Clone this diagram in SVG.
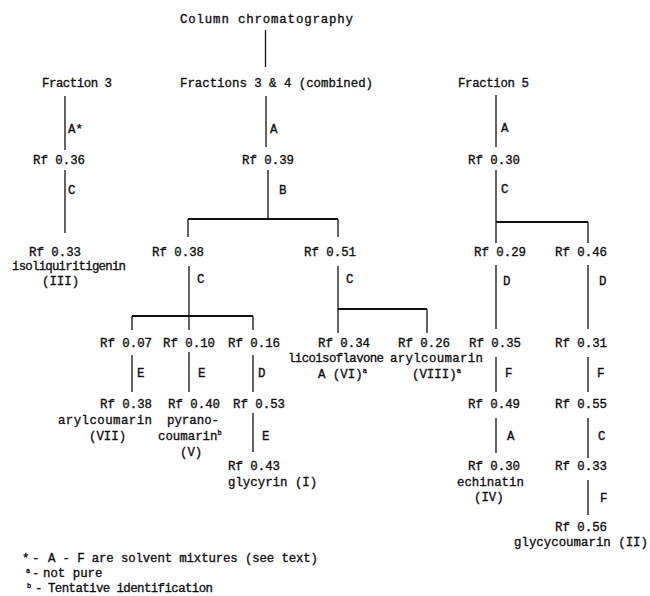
<svg xmlns="http://www.w3.org/2000/svg" width="650" height="596" viewBox="0 0 650 596">
<style>
text{font-family:"Liberation Mono","DejaVu Sans Mono",monospace;font-size:12.4px;fill:#111;stroke:#111;stroke-width:0.35;}
.sup{font-size:7px;}
.v{stroke:#111;stroke-width:1.3;fill:none;}
.h{stroke:#111;stroke-width:2;fill:none;}
</style>
<rect width="650" height="596" fill="#fff"/>
<g id="connectors">
<path class="v" d="M265.5 30V67"/>
<path class="v" d="M65 96V150M65 170V233"/>
<path class="v" d="M266 96V147M268 170V219"/>
<path class="h" d="M188 219H338"/>
<path class="v" d="M188 219V237M338 219V237"/>
<path class="v" d="M189 266V316"/>
<path class="h" d="M132 316H253"/>
<path class="v" d="M132 316V330M189 316V330M253 316V330"/>
<path class="v" d="M132 355V392M189 352V392M253 355V392M253 413V452"/>
<path class="v" d="M338 266V333"/>
<path class="h" d="M338 309H427"/>
<path class="v" d="M427 309V333"/>
<path class="v" d="M496 95V147M496 170V243"/>
<path class="h" d="M496 222H588"/>
<path class="v" d="M588 222V243"/>
<path class="v" d="M496 265V329M588 265V329M496 357V392M588 357V392M496 418V453M588 418V458M588 480V515"/>
<text x="68" y="133">A*</text>
<text x="68" y="194">C</text>
<text x="270" y="133">A</text>
<text x="279" y="194">B</text>
<text x="197" y="283">C</text>
<text x="137" y="377">E</text>
<text x="198" y="377">E</text>
<text x="258" y="377">D</text>
<text x="262" y="440">E</text>
<text x="346" y="283">C</text>
<text x="501" y="132">A</text>
<text x="501" y="193">C</text>
<text x="503" y="285">D</text>
<text x="599" y="285">D</text>
<text x="505" y="377">F</text>
<text x="597" y="377">F</text>
<text x="507" y="440">A</text>
<text x="598" y="440">C</text>
<text x="600" y="502">F</text>
</g>
<g id="n-column"><text x="180" y="23" textLength="173">Column chromatography</text></g>
<g id="n-fraction3"><text x="42" y="87" textLength="70">Fraction 3</text></g>
<g id="n-fraction34"><text x="180" y="87" textLength="193">Fractions 3 &amp; 4 (combined)</text></g>
<g id="n-fraction5"><text x="458" y="87" textLength="71">Fraction 5</text></g>
<g id="n-f3-036"><text x="33" y="164">Rf 0.36</text></g>
<g id="n-f3-033"><text x="29" y="256">Rf 0.33</text><text x="12" y="270" textLength="114">isoliquiritigenin</text><text x="42" y="285">(III)</text></g>
<g id="n-039"><text x="242" y="164">Rf 0.39</text></g>
<g id="n-038"><text x="152" y="256">Rf 0.38</text></g>
<g id="n-051"><text x="304" y="256">Rf 0.51</text></g>
<g id="n-007"><text x="100" y="347">Rf 0.07</text></g>
<g id="n-010"><text x="163" y="347">Rf 0.10</text></g>
<g id="n-016"><text x="228" y="347">Rf 0.16</text></g>
<g id="n-vii"><text x="100" y="408">Rf 0.38</text><text x="58" y="424" textLength="94">arylcoumarin</text><text x="89" y="440">(VII)</text></g>
<g id="n-v"><text x="168" y="408">Rf 0.40</text><text x="167" y="424">pyrano-</text><text x="158" y="440">coumarin<tspan class="sup" dy="-5">b</tspan></text><text x="180" y="456">(V)</text></g>
<g id="n-053"><text x="233" y="408">Rf 0.53</text></g>
<g id="n-i"><text x="228" y="470">Rf 0.43</text><text x="228" y="486">glycyrin (I)</text></g>
<g id="n-vi"><text x="318" y="347">Rf 0.34</text><text x="288" y="362" textLength="96">licoisoflavone</text><text x="318" y="378">A (VI)<tspan class="sup" dy="-5">a</tspan></text></g>
<g id="n-viii"><text x="398" y="347">Rf 0.26</text><text x="390" y="362" textLength="93">arylcoumarin</text><text x="412" y="378">(VIII)<tspan class="sup" dy="-5">a</tspan></text></g>
<g id="n-f5-030"><text x="468" y="164">Rf 0.30</text></g>
<g id="n-029"><text x="474" y="256">Rf 0.29</text></g>
<g id="n-046"><text x="555" y="256">Rf 0.46</text></g>
<g id="n-035"><text x="469" y="347">Rf 0.35</text></g>
<g id="n-031"><text x="555" y="347">Rf 0.31</text></g>
<g id="n-049"><text x="468" y="408">Rf 0.49</text></g>
<g id="n-055"><text x="555" y="408">Rf 0.55</text></g>
<g id="n-iv"><text x="468" y="470">Rf 0.30</text><text x="457" y="486">echinatin</text><text x="474" y="501">(IV)</text></g>
<g id="n-033"><text x="555" y="470">Rf 0.33</text></g>
<g id="n-ii"><text x="555" y="531">Rf 0.56</text><text x="514" y="546" textLength="134">glycycoumarin (II)</text></g>
<g id="legend">
<text x="22" y="562">*</text><text x="32" y="562">-</text><text x="48" y="562" textLength="270">A - F are solvent mixtures (see text)</text>
<text x="26" y="573" class="sup">a</text><text x="32" y="577">-</text><text x="43" y="577">not pure</text>
<text x="27" y="588" class="sup">b</text><text x="35" y="592">-</text><text x="48" y="592" textLength="165">Tentative identification</text>
</g>
</svg>
